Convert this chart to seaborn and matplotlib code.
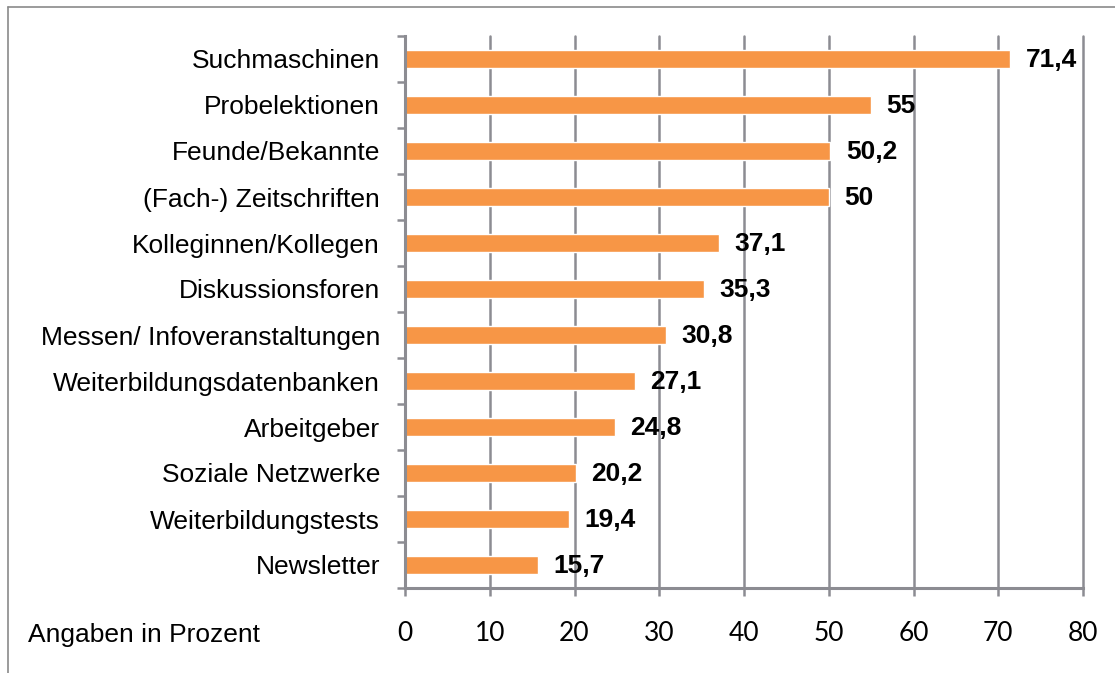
import matplotlib
matplotlib.use('Agg')
import matplotlib.pyplot as plt
import seaborn as sns
import pandas as pd
from matplotlib.lines import Line2D
from matplotlib.ticker import FixedLocator

categories = ['Suchmaschinen', 'Probelektionen', 'Feunde/Bekannte', '(Fach-) Zeitschriften',
              'Kolleginnen/Kollegen', 'Diskussionsforen', 'Messen/ Infoveranstaltungen',
              'Weiterbildungsdatenbanken', 'Arbeitgeber', 'Soziale Netzwerke',
              'Weiterbildungstests', 'Newsletter']
values = [71.4, 55, 50.2, 50, 37.1, 35.3, 30.8, 27.1, 24.8, 20.2, 19.4, 15.7]
labels = ['71,4', '55', '50,2', '50', '37,1', '35,3', '30,8', '27,1', '24,8', '20,2', '19,4', '15,7']
x_ticks = [0, 10, 20, 30, 40, 50, 60, 70, 80]

df = pd.DataFrame({'Kanal': categories, 'Prozent': values})

sns.set_style('white')
plt.rcParams['font.family'] = ['Liberation Sans', 'DejaVu Sans']
plt.rcParams['text.color'] = 'black'
plt.rcParams['xtick.color'] = 'black'
plt.rcParams['ytick.color'] = 'black'
plt.rcParams['xtick.labelcolor'] = 'black'
plt.rcParams['ytick.labelcolor'] = 'black'

fig = plt.figure(figsize=(11.15, 6.73), dpi=100)
ax = fig.add_axes([405 / 1115, 1 - 588 / 673, (1083 - 405) / 1115, (588 - 36) / 673])

grid_col = '#8c8c92'
ax.set_axisbelow(True)
ax.xaxis.grid(True, color=grid_col, linewidth=1.8)

sns.barplot(data=df, x='Prozent', y='Kanal', orient='h', color='#F79646',
            saturation=1, width=0.41, ax=ax)

for i, (v, lab) in enumerate(zip(values, labels)):
    ax.annotate(lab, xy=(v, i), xytext=(11, -1), textcoords='offset points',
                ha='left', va='center', fontsize=19, fontweight='bold', color='black')

ax.set_xlim(0, 80)
ax.set_ylim(len(categories) - 0.5, -0.5)
ax.set_xticks(x_ticks)
ax.set_xticklabels([str(t) for t in x_ticks], fontfamily='Lato', fontsize=19)
ax.set_xlabel('')
ax.set_ylabel('')
ax.tick_params(axis='y', which='major', left=False, length=0, pad=18, labelsize=19)
ax.yaxis.set_minor_locator(FixedLocator([i - 0.5 for i in range(len(categories) + 1)]))
ax.tick_params(axis='y', which='minor', left=True, length=6, width=1.8, color=grid_col,
               direction='out')
ax.tick_params(axis='x', which='major', bottom=True, length=6, width=1.8, color=grid_col,
               direction='out', pad=18)
for gl in ax.get_xgridlines():
    gl.set_clip_on(False)

for s in ['top', 'right']:
    ax.spines[s].set_visible(False)
for s in ['left', 'bottom']:
    ax.spines[s].set_color(grid_col)
    ax.spines[s].set_linewidth(2.2)

fig.text(28 / 1115, 1 - 635 / 673, 'Angaben in Prozent', ha='left', va='center', fontsize=19)

# Rahmen um das Diagramm
frame_col = '#8a8a8a'
fig.add_artist(Line2D([8 / 1115, 1], [1 - 7 / 673, 1 - 7 / 673], color=frame_col, linewidth=1.2))
fig.add_artist(Line2D([8 / 1115, 8 / 1115], [0, 1 - 7 / 673], color=frame_col, linewidth=1.2))

fig.savefig('out.png', dpi=100)
plt.close(fig)
